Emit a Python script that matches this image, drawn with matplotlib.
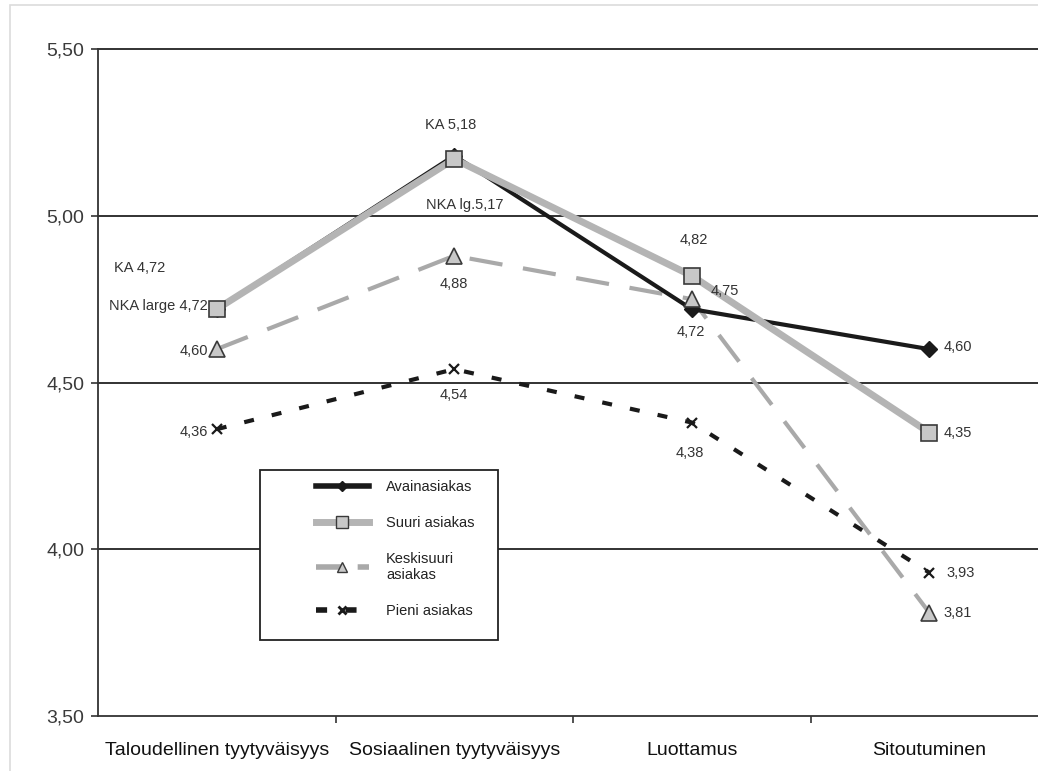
import matplotlib
matplotlib.use("Agg")
import matplotlib.pyplot as plt
from matplotlib.patches import Rectangle
from matplotlib.lines import Line2D

plt.rcParams["font.family"] = ["Liberation Sans", "DejaVu Sans"]

# ─── Data ───────────────────────────────────────────────────────────────────
categories = ["Taloudellinen tyytyväisyys", "Sosiaalinen tyytyväisyys",
              "Luottamus", "Sitoutuminen"]
series_names = ["Avainasiakas", "Suuri asiakas", "Keskisuuri\nasiakas", "Pieni asiakas"]
avain = [4.72, 5.18, 4.72, 4.60]
suuri = [4.72, 5.17, 4.82, 4.35]
keskisuuri = [4.60, 4.88, 4.75, 3.81]
pieni = [4.36, 4.54, 4.38, 3.93]
yticks = [3.50, 4.00, 4.50, 5.00, 5.50]

# point labels: (series, index, text, offset in pixels, ha)
point_labels = [
    (avain, 0, "KA 4,72", (-77, 41), "center"),
    (suuri, 0, "NKA large 4,72", (-9, 3), "right"),
    (keskisuuri, 0, "4,60", (-9, -2), "right"),
    (pieni, 0, "4,36", (-9, -3), "right"),
    (avain, 1, "KA 5,18", (-4, 31), "center"),
    (suuri, 1, "NKA lg.5,17", (10, -46), "center"),
    (keskisuuri, 1, "4,88", (0, -28), "center"),
    (pieni, 1, "4,54", (0, -26), "center"),
    (suuri, 2, "4,82", (2, 36), "center"),
    (keskisuuri, 2, "4,75", (33, 8), "center"),
    (avain, 2, "4,72", (-1, -23), "center"),
    (pieni, 2, "4,38", (-2, -30), "center"),
    (avain, 3, "4,60", (14, 2), "left"),
    (suuri, 3, "4,35", (14, 0), "left"),
    (pieni, 3, "3,93", (17, 0), "left"),
    (keskisuuri, 3, "3,81", (14, 0), "left"),
]

# ─── Styles ─────────────────────────────────────────────────────────────────
BLACK = "#1a1a1a"
GREY = "#b4b4b4"
LIGHT = "#a9a9a9"
FACE = "#c8c8c8"
EDGE = "#3a3a3a"
TEXT = "#333333"
DASH_PIENI = (2.4, 4.4)
DASH_KESKI = (8, 5)

W, H = 1038, 771
fig = plt.figure(figsize=(W / 100, H / 100), dpi=100)
fig.patches.append(Rectangle((10 / W, -0.01), 1.1, 1 - 5 / H + 0.01,
                             transform=fig.transFigure, fill=False,
                             edgecolor="#dcdcdc", linewidth=1.2))

AX_L, AX_B, AX_W, AX_H = 98, 55, 950, 667
ax = fig.add_axes([AX_L / W, AX_B / H, AX_W / W, AX_H / H])
x = list(range(len(categories)))

# lines
ax.plot(x, pieni, color=BLACK, lw=3, dashes=DASH_PIENI, zorder=2)
ax.plot(x, keskisuuri, color=LIGHT, lw=3, dashes=DASH_KESKI, zorder=2)
ax.plot(x, avain, color=BLACK, lw=3, zorder=3)
ax.plot(x, suuri, color=GREY, lw=5, solid_capstyle="round", zorder=4)

# markers
ax.plot(x, pieni, ls="none", marker="x", ms=7, mew=1.6, color=BLACK, zorder=5)
ax.plot(x, avain, ls="none", marker="D", ms=8.5, color=BLACK, zorder=5)
ax.plot(x, keskisuuri, ls="none", marker="^", ms=11, mfc=FACE, mec=EDGE,
        mew=1.2, zorder=6)
ax.plot(x, suuri, ls="none", marker="s", ms=11, mfc=FACE, mec=EDGE,
        mew=1.2, zorder=7)

for series, i, txt, off, ha in point_labels:
    ax.annotate(txt, (x[i], series[i]), xytext=off, textcoords="offset pixels",
                ha=ha, va="center", fontsize=10.5, color=TEXT, zorder=8)

# axes
ax.set_xlim(-0.5, 3.5)
ax.set_ylim(3.5, 5.5)
for y in yticks[1:]:
    ax.axhline(y, color="#222222", lw=1.3, clip_on=False, zorder=1)
for side in ["top", "right"]:
    ax.spines[side].set_visible(False)
for side in ["left", "bottom"]:
    ax.spines[side].set_color("#333333")
    ax.spines[side].set_linewidth(1.3)

ax.set_yticks(yticks)
ax.set_yticklabels([f"{v:.2f}".replace(".", ",") for v in yticks],
                   fontsize=14, color="#3a3a3a")
ax.tick_params(axis="y", direction="out", length=5, width=1.2,
               color="#333333", pad=5)
ax.set_xticks(x)
ax.set_xticklabels(categories, fontsize=14, color="#111111")
ax.set_xticks([0.5, 1.5, 2.5], minor=True)
ax.tick_params(axis="x", which="major", length=0, pad=19)
ax.tick_params(axis="x", which="minor", direction="out", length=5, width=1.2,
               color="#333333")


def px(xp, yp):
    """figure pixel (from top-left) -> axes fraction"""
    return (xp - AX_L) / AX_W, (H - AX_B - yp) / AX_H


# legend: separate frame, frameless legend inside
fx0, fy0 = px(260, 640)
fx1, fy1 = px(498, 470)
ax.add_patch(Rectangle((fx0, fy0), fx1 - fx0, fy1 - fy0, transform=ax.transAxes,
                       fill=False, edgecolor="#222222", lw=1.3, zorder=9,
                       clip_on=False))
ax.add_patch(Rectangle((fx0, fy0), fx1 - fx0, fy1 - fy0, transform=ax.transAxes,
                       facecolor="white", edgecolor="none", zorder=8.5,
                       clip_on=False))

handles = [
    Line2D([], [], color=BLACK, lw=4, marker="D", ms=5),
    Line2D([], [], color=GREY, lw=5, marker="s", ms=8, mfc=FACE, mec=EDGE),
    Line2D([], [], color=LIGHT, lw=4, dashes=(5, 2.5), marker="^", ms=7,
           mfc=FACE, mec=EDGE),
    Line2D([], [], color=BLACK, lw=4, dashes=(2, 3.3), marker="x", ms=6, mew=2),
]
leg = ax.legend(handles, series_names, loc="upper left",
                bbox_to_anchor=px(316, 480), frameon=False,
                fontsize=10.5, handlelength=3.6, labelspacing=1.5,
                borderpad=0, handletextpad=1.2, borderaxespad=0)
leg.set_zorder(10)
for t in leg.get_texts():
    t.set_color("#222222")

fig.savefig("out.png", dpi=100)
